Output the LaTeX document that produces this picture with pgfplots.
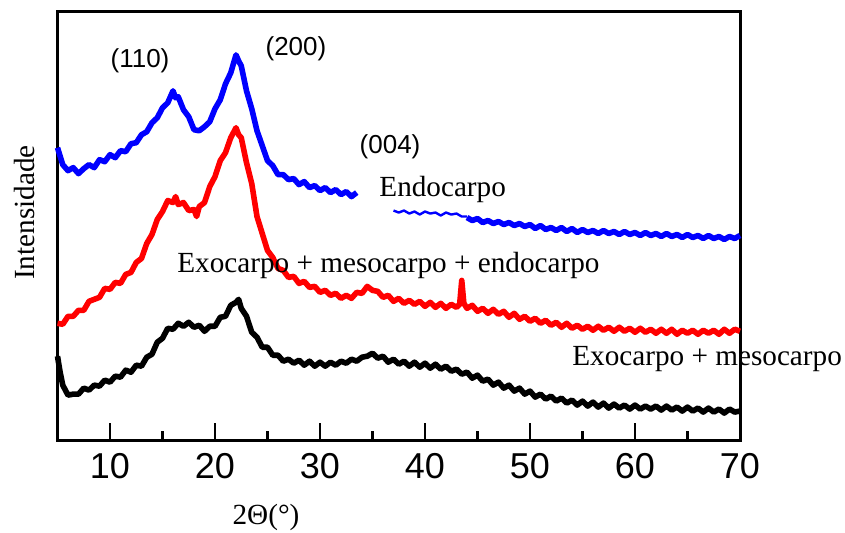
\documentclass[border=0pt]{standalone}
\usepackage{fontspec}
\setmainfont{Liberation Serif}
\newfontfamily\arial{Liberation Sans}
\usepackage{pgfplots}
\pgfplotsset{compat=1.18}

\begin{document}
\begin{tikzpicture}
\begin{axis}[
    name=ax,
    scale only axis,
    width=341.25pt, height=214.5pt,
    xmin=5, xmax=70, ymin=0, ymax=430,
    xtick={10,20,...,70},
    minor xtick={15,25,...,65},
    ytick=\empty,
    xtick pos=bottom,
    tick align=inside,
    major tick length=8.5pt,
    minor tick length=4.5pt,
    every tick/.style={black, line width=1.3pt},
    axis line style={line width=1.5pt},
    /pgf/number format/assume math mode=true,
    xticklabel style={font=\arial\fontsize{18}{18}\selectfont, yshift=-3pt},
    clip=false,
    every axis plot/.append style={line width=2.8pt, line join=round},
]
% Endocarpo
\addplot[blue] coordinates {
(5,293) (5.5,276) (6,270) (6.5,273) (7,267) (7.5,272) (8,276) (8.5,273) (9,281) (9.5,279)
(10,286) (10.5,283) (11,290) (11.5,289) (12,297) (12.5,298) (13,306) (13.5,309) (14,318) (14.5,323)
(15,333) (15.5,338) (16,350) (16.25,343) (16.5,344) (17,331) (17.5,324) (18,311) (18.5,310) (19,314)
(19.5,319) (20,332) (20.5,341) (21,357) (21.5,368) (22,386) (22.25,380) (22.5,375) (23,350) (23.5,332)
(24,310) (24.5,295) (25,280) (25.5,275) (26,266) (26.5,266) (27,261) (27.5,262) (28,256) (28.5,259)
(29,253) (29.5,255) (30,250) (30.5,253) (31,248) (31.5,251) (32,246) (32.5,249) (33,244) (33.5,248)
};
\addplot[blue, line width=1.2pt] coordinates {
(37,230) (37.5,228) (38,230) (38.5,227) (39,229) (39.5,226) (40,229) (40.5,227) (41,228) (41.5,225)
(42,228) (42.5,226) (43,227) (43.5,224) (44,224)
};
\addplot[blue] coordinates {
(44,223) (44.5,220) (45,222) (45.5,218) (46,220) (46.5,217) (47,219) (47.5,216) (48,218) (48.5,215)
(49,217) (49.5,214) (50,216) (50.5,212) (51,215) (51.5,211) (52,213) (52.5,210) (53,213) (53.5,209)
(54,212) (54.5,208) (55,211) (55.5,208) (56,210) (56.5,207) (57,210) (57.5,207) (58,209) (58.5,206)
(59,209) (59.5,206) (60,208) (60.5,205) (61,208) (61.5,205) (62,207) (62.5,204) (63,207) (63.5,204)
(64,206) (64.5,203) (65,206) (65.5,203) (66,205) (66.5,202) (67,205) (67.5,202) (68,204) (68.5,201)
(69,204) (69.5,202) (70,205)
};
% Exocarpo + mesocarpo + endocarpo
\addplot[red] coordinates {
(5,117) (5.5,116) (6,124) (6.5,124) (7,130) (7.5,130) (8,139) (8.5,141) (9,143) (9.5,152)
(10,151) (10.5,158) (11,157) (11.5,166) (12,168) (12.5,178) (13,182) (13.5,197) (14,206) (14.5,221)
(15,229) (15.5,240) (16,238) (16.25,244) (16.5,236) (17,238) (17.5,230) (18,231) (18.25,224) (18.5,234)
(19,238) (19.5,254) (20,264) (20.5,280) (21,288) (21.5,303) (21.75,308) (22,313) (22.25,306) (22.5,303)
(23,278) (23.5,257) (24,224) (24.5,207) (25,190) (25.5,183) (26,172) (26.5,170) (27,163) (27.5,164)
(28,157) (28.5,159) (29,153) (29.5,154) (30,148) (30.5,150) (31,145) (31.5,147) (32,142) (32.5,145)
(33,142) (33.5,148) (34,147) (34.5,154) (35,150) (35.5,149) (36,143) (36.5,145) (37,139) (37.5,142)
(38,137) (38.5,140) (39,136) (39.5,139) (40,134) (40.5,138) (41,133) (41.5,137) (42,132) (42.5,136)
(43,133) (43.3,136) (43.5,160) (43.7,137) (44,132) (44.5,135) (45,129) (45.5,132) (46,127) (46.5,131)
(47,126) (47.5,129) (48,123) (48.5,127) (49,121) (49.5,124) (50,119) (50.5,122) (51,117) (51.5,120)
(52,115) (52.5,118) (53,113) (53.5,117) (54,112) (54.5,115) (55,111) (55.5,114) (56,110) (56.5,114)
(57,110) (57.5,113) (58,109) (58.5,113) (59,109) (59.5,112) (60,108) (60.5,112) (61,108) (61.5,111)
(62,107) (62.5,111) (63,107) (63.5,111) (64,106) (64.5,110) (65,107) (65.5,110) (66,106) (66.5,110)
(67,107) (67.5,110) (68,106) (68.5,111) (69,107) (69.5,111) (70,109)
};
% Exocarpo + mesocarpo
\addplot[black] coordinates {
(5,84) (5.25,68) (5.5,55) (6,45) (6.5,46) (7,46) (7.5,52) (8,50) (8.5,55) (9,54)
(9.5,60) (10,58) (10.5,64) (11,63) (11.5,70) (12,68) (12.5,75) (13,74) (13.5,83) (14,86)
(14.5,98) (15,102) (15.5,112) (16,111) (16.5,117) (17,114) (17.5,118) (18,113) (18.5,115) (19,109)
(19.5,114) (20,114) (20.5,123) (21,124) (21.5,135) (22,138) (22.25,141) (22.5,132) (23,124) (23.5,108)
(24,103) (24.5,93) (25,93) (25.5,85) (26,85) (26.5,79) (27,81) (27.5,77) (28,80) (28.5,75)
(29,79) (29.5,74) (30,78) (30.5,74) (31,78) (31.5,75) (32,79) (32.5,77) (33,81) (33.5,79)
(34,83) (34.5,84) (35,87) (35.5,82) (36,84) (36.5,78) (37,81) (37.5,76) (38,79) (38.5,74)
(39,78) (39.5,73) (40,77) (40.5,72) (41,76) (41.5,71) (42,74) (42.5,69) (43,71) (43.5,66)
(44,68) (44.5,62) (45,65) (45.5,59) (46,61) (46.5,55) (47,58) (47.5,52) (48,55) (48.5,49)
(49,52) (49.5,46) (50,49) (50.5,43) (51,46) (51.5,41) (52,44) (52.5,39) (53,42) (53.5,37)
(54,40) (54.5,35) (55,39) (55.5,34) (56,38) (56.5,33) (57,37) (57.5,32) (58,36) (58.5,32)
(59,35) (59.5,31) (60,35) (60.5,31) (61,34) (61.5,31) (62,34) (62.5,30) (63,34) (63.5,30)
(64,33) (64.5,29) (65,33) (65.5,29) (66,32) (66.5,28) (67,32) (67.5,28) (68,31) (68.5,27)
(69,31) (69.5,28) (70,29)
};
% annotations
\node[font=\arial\fontsize{13}{13}\selectfont] at (axis cs:12.86,380) {(110)};
\node[font=\arial\fontsize{13}{13}\selectfont] at (axis cs:27.71,392) {(200)};
\node[font=\arial\fontsize{13}{13}\selectfont] at (axis cs:36.67,294) {(004)};
\node[anchor=base west, inner sep=0pt, font=\fontsize{14.6}{16}\selectfont] at (axis cs:35.62,244) {Endocarpo};
\node[anchor=base west, inner sep=0pt, font=\fontsize{14.6}{16}\selectfont] at (axis cs:16.38,168) {Exocarpo + mesocarpo + endocarpo};
\node[anchor=base west, inner sep=0pt, font=\fontsize{14.6}{16}\selectfont] at (axis cs:54.0,75) {Exocarpo + mesocarpo};
\node[font=\fontsize{14.6}{16}\selectfont] at (axis cs:24.86,-78) {2Θ(°)};
\node[rotate=90, font=\fontsize{14.6}{16}\selectfont] at (axis cs:1.905,228) {Intensidade};
\end{axis}
\pgfresetboundingbox
\path[use as bounding box] ([shift={(-28.75pt,-46pt)}]ax.south west) rectangle ([shift={(393.75pt,220pt)}]ax.south west);
\end{tikzpicture}
\end{document}
